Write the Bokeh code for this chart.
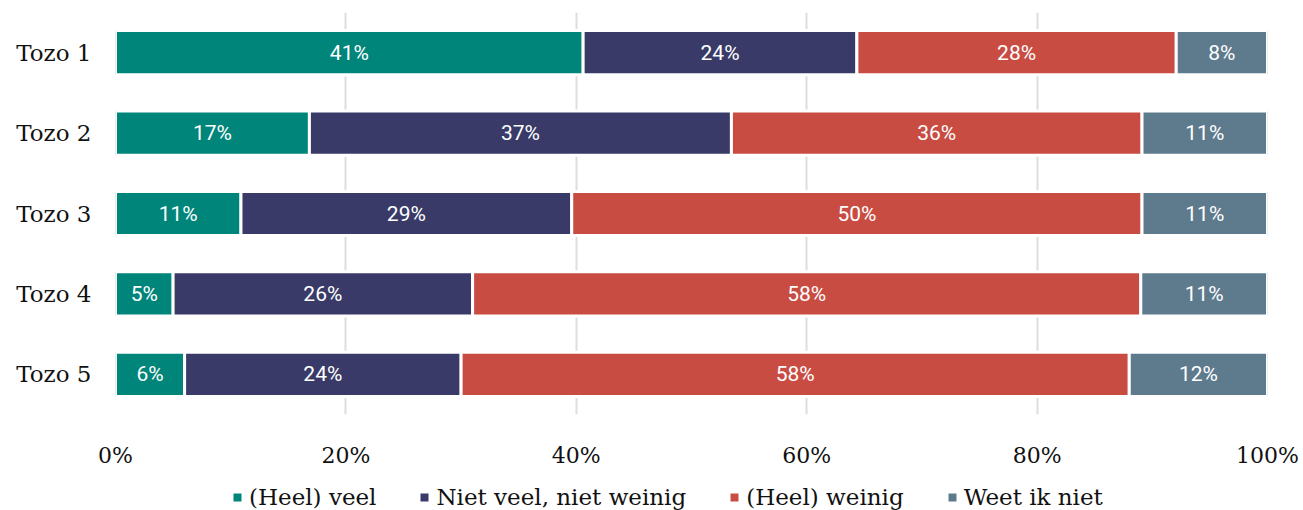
from bokeh.plotting import figure
from bokeh.models import ColumnDataSource, FixedTicker, Range1d, FactorRange, Legend, LegendItem
from bokeh.layouts import column
from bokeh.core.properties import value
from bokeh.embed import file_html
from bokeh.resources import INLINE

categories = ["Tozo 1", "Tozo 2", "Tozo 3", "Tozo 4", "Tozo 5"]
series_names = ["(Heel) veel", "Niet veel, niet weinig", "(Heel) weinig", "Weet ik niet"]
veel = [41, 17, 11, 5, 6]
neutraal = [24, 37, 29, 26, 24]
weinig = [28, 36, 50, 58, 58]
weet_niet = [8, 11, 11, 11, 12]
colors = ["#00857A", "#393A68", "#C94C43", "#5E7A8D"]
x_ticks = [0, 20, 40, 60, 80, 100]

raw = [veel, neutraal, weinig, weet_niet]
keys = ["s0", "s1", "s2", "s3"]
totals = [sum(r[i] for r in raw) for i in range(len(categories))]
data = {"cat": categories}
for k, r in zip(keys, raw):
    data[k] = [v / t * 100 for v, t in zip(r, totals)]
src = ColumnDataSource(data)

# label positions
lx, ly, lt = [], [], []
for i, c in enumerate(categories):
    left = 0.0
    for k, r in zip(keys, raw):
        w = data[k][i]
        lx.append(left + w / 2)
        ly.append(c)
        lt.append(f"{r[i]}%")
        left += w
lsrc = ColumnDataSource(dict(x=lx, y=ly, t=lt))

p = figure(width=1303, height=470, output_backend="svg", toolbar_location=None,
           x_range=Range1d(0, 100), y_range=FactorRange(*reversed(categories)),
           min_border_left=115, min_border_right=36, min_border_top=12, min_border_bottom=52)
p.outline_line_color = None

rs = p.hbar_stack(keys, y="cat", height=0.55, color=colors, source=src,
                  line_color="white", line_width=3)

p.text(x="x", y="y", text="t", source=lsrc, text_color="white",
       text_font=value("Roboto"), text_font_size="21px",
       text_align="center", text_baseline="middle")

p.xaxis.ticker = FixedTicker(ticks=x_ticks)
p.xaxis.major_label_overrides = {t: f"{t}%" for t in x_ticks}
p.xaxis.axis_line_color = None
p.xaxis.major_tick_line_color = None
p.xaxis.minor_tick_line_color = None
p.xaxis.major_label_standoff = 22
p.xaxis.major_label_text_font = "DejaVu Serif"
p.xaxis.major_label_text_font_size = "22px"
p.xaxis.major_label_text_color = "#111111"

p.yaxis.axis_line_color = None
p.yaxis.major_tick_line_color = None
p.yaxis.major_label_standoff = 18
p.yaxis.major_label_text_font = "DejaVu Serif"
p.yaxis.major_label_text_font_size = "23px"
p.yaxis.major_label_text_color = "#111111"

p.xgrid.grid_line_color = "#DDDDDD"
p.xgrid.grid_line_width = 2
p.ygrid.grid_line_color = None

# legend in its own strip (hidden bars, only the legend shows)
p2 = figure(width=1303, height=40, output_backend="svg", toolbar_location=None,
            x_range=Range1d(0, 100), y_range=FactorRange(*categories), min_border=0)
p2.axis.visible = False
p2.grid.visible = False
p2.outline_line_color = None
lr = p2.hbar_stack(keys, y="cat", height=0.5, color=colors, source=src, line_color=None)
for r in lr:
    r.visible = False
items = [LegendItem(label=n, renderers=[r]) for n, r in zip(series_names, lr)]
lg = Legend(items=items, orientation="horizontal", location=(117, 0))
lg.padding = 0
lg.margin = 0
lg.spacing = 43
lg.glyph_width = 10
lg.glyph_height = 10
lg.label_standoff = 7
lg.label_text_font = "DejaVu Serif"
lg.label_text_font_size = "23px"
lg.label_text_color = "#111111"
lg.border_line_color = None
lg.background_fill_alpha = 0
lg.inactive_fill_alpha = 0
p2.add_layout(lg, "center")

open("out.html", "w").write(file_html(column(p, p2), INLINE))
